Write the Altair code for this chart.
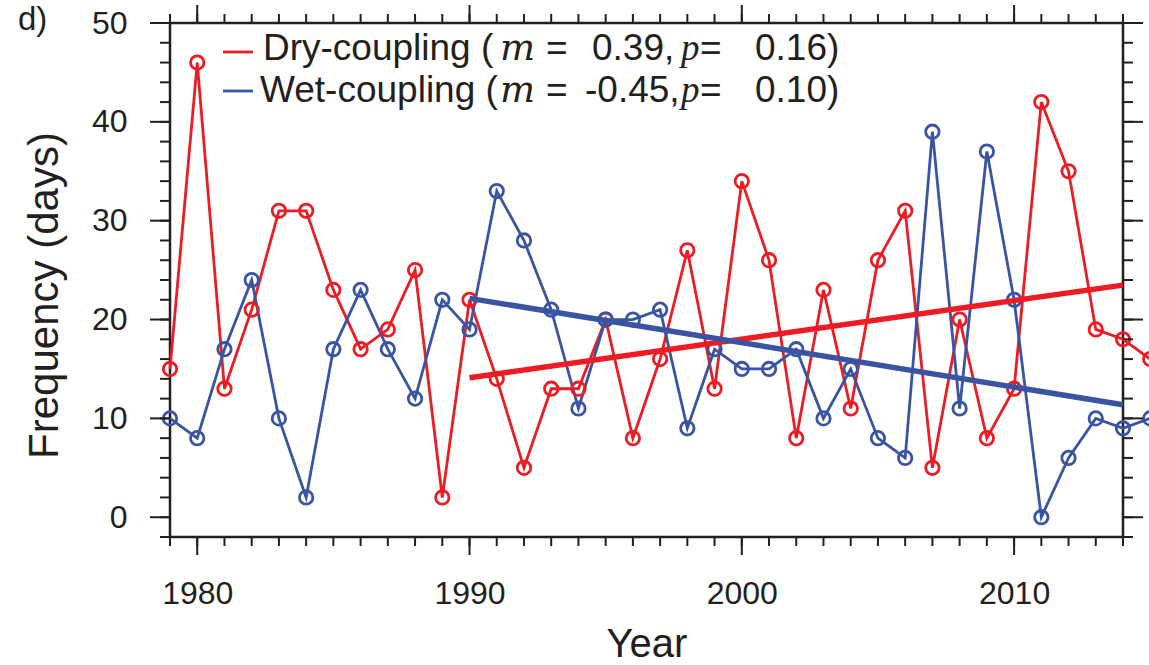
import altair as alt
import pandas as pd

# ---- data ----
years = list(range(1979, 2016))
dry = [15, 46, 13, 21, 31, 31, 23, 17, 19, 25,
       2, 22, 14, 5, 13, 13, 20, 8, 16, 27,
       13, 34, 26, 8, 23, 11, 26, 31, 5, 20,
       8, 13, 42, 35, 19, 18, 16]
wet = [10, 8, 17, 24, 10, 2, 17, 23, 17, 12,
       22, 19, 33, 28, 21, 11, 20, 20, 21, 9,
       17, 15, 15, 17, 10, 15, 8, 6, 39, 11,
       37, 22, 0, 6, 10, 9, 10]
series = ["Dry-coupling", "Wet-coupling"]
colors = ["#ED1C24", "#3A54A4"]
trend_range = [1990, 2014]

x_major = [1980, 1990, 2000, 2010]
x_minor = list(range(1979, 2015))
y_major = [0, 10, 20, 30, 40, 50]
y_minor = list(range(-2, 51, 2))

row1 = ["Dry-coupling (", "m", "=", "0.39,", "p", "=", "0.16)"]
row2 = ["Wet-coupling (", "m", "=", "-0.45,", "p", "=", "0.10)"]
panel_label = "d)"

df = pd.DataFrame({
    "year": years * 2,
    "freq": dry + wet,
    "series": [series[0]] * len(years) + [series[1]] * len(years),
})

ink = "#231f20"
W, H = 953, 514
FONT = "Liberation Sans"

xscale = alt.Scale(domain=[1979, 2014], nice=False, zero=False)
yscale = alt.Scale(domain=[-2, 50], nice=False, zero=False)
xaxis = alt.Axis(values=x_major, format="d", title="Year", grid=False, ticks=False,
                 tickSize=0, domain=False, labelFontSize=32, labelPadding=41,
                 labelFont=FONT, labelColor=ink, titleFont=FONT, titleFontSize=40,
                 titleFontWeight="normal", titleColor=ink, titleY=119,
                 titleBaseline="alphabetic")
yaxis = alt.Axis(values=y_major, format="d", title="Frequency (days)", grid=False,
                 ticks=False, tickSize=0, domain=False, labelFontSize=32,
                 labelPadding=43, labelFont=FONT, labelColor=ink, titleFont=FONT,
                 titleFontSize=42, titleFontWeight="normal", titleColor=ink,
                 titleX=-113, titleY=272, titleBaseline="alphabetic")

X = alt.X("year:Q", scale=xscale, axis=xaxis)
Y = alt.Y("freq:Q", scale=yscale, axis=yaxis)
C = alt.Color("series:N", scale=alt.Scale(domain=series, range=colors), legend=None)

base = alt.Chart(df).encode(x=X, y=Y, color=C)
lines = base.mark_line(strokeWidth=2.8, clip=False)
points = base.mark_point(shape="circle", filled=False, size=180, strokeWidth=2.8,
                         opacity=1, clip=False)

trend = (
    alt.Chart(df)
    .transform_filter((alt.datum.year >= trend_range[0]) & (alt.datum.year <= trend_range[1]))
    .transform_regression("year", "freq", groupby=["series"], extent=trend_range)
    .mark_line(strokeWidth=5.5)
    .encode(x=X, y=Y, color=C)
)


def xticks(vals, y0, y1):
    return alt.Chart(pd.DataFrame({"year": vals})).mark_rule(color=ink, strokeWidth=2).encode(
        x=X, y=alt.value(y0), y2=alt.value(y1))


def yticks(vals, x0, x1):
    return alt.Chart(pd.DataFrame({"freq": vals})).mark_rule(color=ink, strokeWidth=2).encode(
        y=Y, x=alt.value(x0), x2=alt.value(x1))


ticks = [
    xticks(x_minor, H, H + 9), xticks(x_major, H, H + 18),
    xticks(x_minor, 0, -9), xticks(x_major, 0, -18),
    yticks(y_minor, 0, -10), yticks(y_major, 0, -20),
    yticks(y_minor, W, W + 10), yticks(y_major, W, W + 20),
]


def label(text, x, y, size=37, italic=False, font=FONT):
    kw = dict(align="left", baseline="alphabetic", fontSize=size, font=font, color=ink)
    if italic:
        kw["fontStyle"] = "italic"
    return alt.Chart(pd.DataFrame({"t": [text]})).mark_text(**kw).encode(
        text="t:N", x=alt.value(x), y=alt.value(y))


def key_line(color, y):
    return alt.Chart(pd.DataFrame({"k": [0]})).mark_rule(color=color, strokeWidth=2.8).encode(
        x=alt.value(53), x2=alt.value(83), y=alt.value(y))


seg_x = [93, 330, 376, 422, 511, 530, 585]
seg_x2 = [90, 330, 376, 415, 511, 530, 585]
seg_font = [FONT, "DejaVu Serif", FONT, FONT, "Liberation Serif", FONT, FONT]
legend_layers = [key_line(colors[0], 29), key_line(colors[1], 68)]
for i, (t1, t2) in enumerate(zip(row1, row2)):
    italic = t1 in ("m", "p")
    legend_layers.append(label(t1, seg_x[i], 37, italic=italic, font=seg_font[i]))
    legend_layers.append(label(t2, seg_x2[i], 79, italic=italic, font=seg_font[i]))

panel = label(panel_label, -152, 7, size=33)

chart = alt.layer(
    lines, points, trend, *ticks, *legend_layers, panel
).properties(
    width=W, height=H,
    padding={"left": 170, "top": 23, "right": 26, "bottom": 128},
    autosize=alt.AutoSizeParams(type="none"),
).configure_view(stroke=ink, strokeWidth=2.5)

chart.save("out.html", embed_options={"renderer": "svg", "actions": False})
